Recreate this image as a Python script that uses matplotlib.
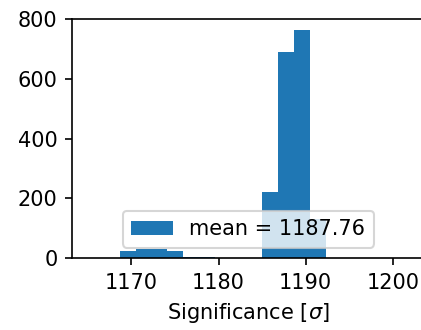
import numpy as np
import matplotlib
matplotlib.use('Agg')
import matplotlib.pyplot as plt

# histogram of significances, binned
edges = np.linspace(1168.7, 1192.3, 14)
counts = [24, 32, 32, 24, 5, 5, 0, 0, 0, 222, 690, 763, 130]
mean_sig = 1187.76

fig = plt.figure(figsize=(421 / 150., 330 / 150.), dpi=150)
ax = fig.add_axes([0.171, 0.218, 0.837, 0.724])
ax.hist(edges[:-1], bins=edges, weights=counts,
        label='mean = %.2f' % mean_sig)
ax.set_xlim(1163.2, 1203.6)
ax.set_ylim(0, 800)
ax.set_xticks([1170, 1180, 1190, 1200])
ax.set_yticks([0, 200, 400, 600, 800])
ax.set_xlabel(r'Significance [$\sigma$]')
ax.legend(loc='lower center')
plt.savefig('out.png', dpi=150)
